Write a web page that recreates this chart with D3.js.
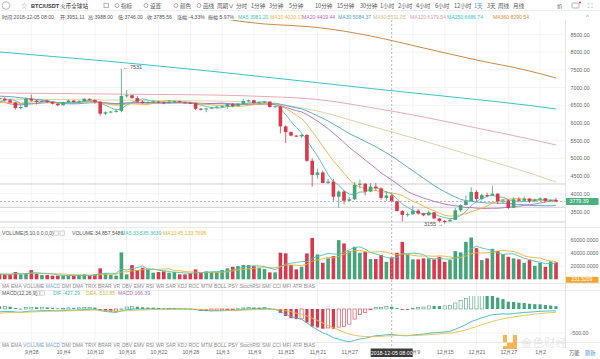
<!DOCTYPE html>
<html><head><meta charset="utf-8">
<script src="https://cdn.jsdelivr.net/npm/d3@7"></script>
<style>
html,body{margin:0;padding:0;background:#fff;}
svg{display:block;font-family:"Liberation Sans","Noto Sans CJK SC",sans-serif;}
</style></head><body>
<svg id="c" width="600" height="359"></svg>
<script>
// ---------------- DATA ----------------
const startDate = new Date(2018, 8, 22);
const endDate = new Date(2019, 0, 6);
const opens = [6700,6680,6640,6580,6420,6450,6680,6630,6590,6620,
6590,6540,6500,6580,6630,6590,6610,6680,6650,6600,
6260,6300,6320,6340,6760,6780,6700,6600,6560,6590,
6600,6580,6560,6600,6610,6580,6570,6560,6400,6380,
6410,6430,6460,6470,6530,6480,6540,6620,6640,6560,
6580,6600,6450,6470,5900,5740,5640,5620,5660,4930,
4530,4600,4300,4340,3915,4060,3800,3840,4250,4280,
4060,4200,4150,3880,3951.11,3785,3510,3400,3420,3520,
3440,3390,3470,3300,3230,3220,3260,3530,3680,3790,
4050,3850,3960,3950,4000,3780,3810,3600,3840,3800,
3860,3790,3830,3870,3800,3820];
const closes = [6680,6640,6580,6420,6450,6680,6630,6590,6620,6590,
6540,6500,6580,6630,6590,6610,6680,6650,6600,6260,
6300,6320,6340,6760,6780,6700,6600,6560,6590,6600,
6580,6560,6600,6610,6580,6570,6560,6400,6380,6410,
6430,6460,6470,6530,6480,6540,6620,6640,6560,6580,
6600,6450,6470,5900,5740,5640,5620,5660,4930,4530,
4600,4300,4340,3915,4060,3800,3840,4250,4280,4060,
4200,4150,3880,3951.11,3785.56,3510,3400,3420,3520,3440,
3390,3470,3300,3230,3220,3260,3530,3680,3790,4050,
3850,3960,3950,4000,3780,3810,3600,3840,3800,3860,
3790,3830,3870,3800,3820,3779.39];
const highs = [6760,6720,6680,6600,6520,6720,6800,6650,6650,6660,
6610,6560,6600,6660,6640,6640,6700,6690,6660,6610,
6330,6340,6400,7531,6930,6790,6760,6640,6610,6640,
6620,6600,6640,6630,6630,6600,6580,6570,6420,6430,
6450,6480,6490,6560,6560,6560,6680,6660,6650,6600,
6620,6610,6490,6480,5930,5760,5660,5680,5680,5000,
4700,4650,4420,4420,4100,4100,3900,4330,4400,4300,
4300,4300,4180,4070,3988,3800,3540,3470,3660,3570,
3460,3520,3480,3320,3260,3300,3600,3700,3950,4180,
4100,4000,4030,4230,4010,3850,3840,3900,3900,3920,
3880,3860,3900,3880,3850,3880];
const lows = [6640,6600,6560,6380,6380,6430,6600,6520,6570,6560,
6520,6470,6490,6560,6570,6560,6590,6630,6540,6200,
6220,6270,6290,6300,6700,6680,6560,6540,6540,6570,
6560,6530,6550,6560,6570,6560,6540,6360,6350,6300,
6390,6420,6430,6400,6440,6470,6520,6580,6540,6530,
6560,6430,6420,5700,5430,5620,5600,5580,4900,4200,
4430,4300,4280,3800,3600,3700,3780,3820,4150,3950,
4040,4090,3830,3800,3746,3500,3220,3350,3400,3400,
3360,3380,3280,3190,3155,3210,3250,3480,3670,3780,
3780,3810,3900,3930,3700,3720,3560,3590,3780,3780,
3740,3750,3800,3770,3770,3760];
const volumes = [8000,7500,7500,11000,7500,9000,14000,8500,6500,6500,
5500,5500,5500,5500,5500,6500,7500,5500,7500,16600,
9000,6500,5500,40700,7500,21600,14000,17500,15500,10000,
11000,12000,10000,11000,7500,7500,9000,15000,10000,12000,
11000,11000,14000,16600,19000,20000,21600,21600,20000,17500,
15500,10500,10500,40300,39300,21600,15000,
19000,39200,62700,37700,25000,31700,35100,59300,54300,42700,
49200,40100,41600,30600,30600,36700,26500,33200,40100,56700,
37700,30200,30200,31700,31700,30200,34100,26500,29100,42700,
40700,56700,63300,47200,29100,31700,46200,42700,37700,34100,
31700,30200,25000,29100,20500,25000,19000,27100,25600];
// closes of the 29 days before the window (for the short moving averages and MACD)
const priorCloses = [6800,6830,6810,6990,7150,7100,7060,7090,7250,7320,7310,7400,6800,6600,6500,6300,6350,6390,6380,6430,6590,6620,6610,6600,6350,6440,6480,6590,6820];
// long moving averages at sample candles
const longIdx = [0,10,20,30,40,50,60,70,80,90,100,105];
const ma60Vals = [6675,6661,6647,6633,6619,6562,6336,5912,5489,5037,4585,4331];
const ma120Vals = [6845,6831,6816,6802,6788,6746,6661,6435,6167,5856,5545,5376];
const ma250Vals = [8003,7876,7749,7607,7458,7297,7136,6972,6816,6661,6492,6393];
const ma360Idx = [38,45,50,55,60,70,80,90,100,105];
const ma360Vals = [9060,8879,8794,8752,8695,8455,8116,7777,7466,7268];
const drawnLevels = [4274, 3616, 3200];
const priceTicks = [3500,4000,4500,5000,5500,6000,6500,7000,7500,8000,8500];
const volTicks = [20000,40000,60000];
const macdTicks = [-500];
const dateTickLabels = ["9月28","10月4","10月10","10月16","10月22","10月28","11月3","11月9","11月15","11月21","11月27","12月9","12月15","12月21","12月27","1月2"];
const crossDate = "2018-12-05 08:00";
const crossIdx = 74;
const periods = ["分时","1分钟","3分钟","5分钟","10分钟","15分钟","30分钟","1小时","2小时","4小时","6小时","12小时","1天","3天","周线","月线"];
const indicatorTabs = ["MA","EMA","VOLUME","MACD","DMI","DMA","TRIX","BRAR","VR","OBV","EMV","RSI","WR","SAR","KDJ","ROC","MTM","BOLL","PSY","StochRSI","SMI","CCI","MFI","ATR","BIAS"];
const infoItems = ["时间:2018-12-05 08:00","开:3951.11","高:3988.00","低:3746.00","收:3785.56","涨幅:-4.33%","振幅:5.97%","MA5:3981.20","MA10:4020.17","MA20:4409.44","MA30:5084.37","MA60:5511.05","MA120:6179.54","MA250:6686.74","MA360:8290.54"];
const volInfo = ["VOLUME(5,10,0,0,0,0)","VOLUME:34,857.5486","MA5:33,535.3639","MA10:45,133.7698"];
const macdInfo = ["MACD(12,26,9)","DIF:-427.29","DEA:-510.85","MACD:166.39"];
const lastVolLabel = "231.5209";

// ---------------- SETUP ----------------
const svg = d3.select("#c");
const UP = "#45a57a", DOWN = "#d9394c";
const AX = 565.5;
const n = closes.length;
const dates = d3.timeDay.range(startDate, endDate);
const fmtDate = d => `${d.getMonth()+1}月${d.getDate()}`;
const x = d3.scaleLinear().domain([0, 105]).range([-0.5, -0.5 + 105*5.3]);
const yP = d3.scaleLinear().domain([3087, 8850]).range([226, 22]);
const yV = d3.scaleLinear().domain([0, 60000]).range([279.3, 239.7]);
const yM = d3.scaleLinear().domain([-500, 0]).range([333, 309]);
const tickIdx = dateTickLabels.map(l => dates.findIndex(d => fmtDate(d) === l));

const defs = svg.append("defs");
function clip(id, y0, y1){ defs.append("clipPath").attr("id", id).append("rect").attr("x",0).attr("y",y0).attr("width",AX).attr("height",y1-y0); }
clip("cMain", 20, 227); clip("cVol", 236, 281); clip("cMacd", 296, 344);

// grid
const grid = svg.append("g");
tickIdx.forEach(i => grid.append("line").attr("x1", x(i)).attr("x2", x(i)).attr("y1", 20).attr("y2", 344).attr("stroke", "#f1f1f1").attr("stroke-width", 0.8));
priceTicks.forEach(v => grid.append("line").attr("x1",0).attr("x2",AX).attr("y1",yP(v)).attr("y2",yP(v)).attr("stroke","#f1f1f1").attr("stroke-width",0.8));
volTicks.forEach(v => grid.append("line").attr("x1",0).attr("x2",AX).attr("y1",yV(v)).attr("y2",yV(v)).attr("stroke","#f1f1f1").attr("stroke-width",0.8));
macdTicks.forEach(v => grid.append("line").attr("x1",0).attr("x2",AX).attr("y1",yM(v)).attr("y2",yM(v)).attr("stroke","#f1f1f1").attr("stroke-width",0.8));

// separators
[227.5,283.5,290.5,342.5].forEach(y => svg.append("line").attr("x1",0).attr("x2",600).attr("y1",y).attr("y2",y).attr("stroke","#e6e6e6").attr("stroke-width",0.8));
svg.append("line").attr("x1",0).attr("x2",600).attr("y1",10.5).attr("y2",10.5).attr("stroke","#eeeeee");
svg.append("line").attr("x1",AX).attr("x2",AX).attr("y1",20).attr("y2",348).attr("stroke","#dddddd").attr("stroke-width",0.8);

// ---------------- MAIN PANE ----------------
const main = svg.append("g").attr("clip-path","url(#cMain)");
drawnLevels.forEach(v => main.append("line").attr("x1",0).attr("x2",AX).attr("y1",yP(v)).attr("y2",yP(v)).attr("stroke","#c9c9c9").attr("stroke-width",0.9));
main.append("line").attr("x1",0).attr("x2",AX).attr("y1",yP(closes[n-1])).attr("y2",yP(closes[n-1])).attr("stroke","#a9a9a9").attr("stroke-dasharray","2,2").attr("stroke-width",0.8);

const allCloses = priorCloses.concat(closes);
const P = priorCloses.length;
function sma(k){ return closes.map((c,i) => d3.mean(allCloses.slice(Math.max(0, i+P-k+1), i+P+1))); }
const lineI = d3.line().x((d,i)=>x(i)).y(d=>yP(d));
const knotLine = d3.line().x(d=>x(d[0])).y(d=>yP(d[1])).curve(d3.curveMonotoneX);
function knots(idx, vals){ return idx.map((i,k)=>[i, vals[k]]); }
main.append("path").attr("d", knotLine(knots(ma360Idx, ma360Vals))).attr("fill","none").attr("stroke","#c98a47").attr("stroke-width",1);
main.append("path").attr("d", knotLine(knots(longIdx, ma250Vals))).attr("fill","none").attr("stroke","#36c5c9").attr("stroke-width",1);
main.append("path").attr("d", knotLine(knots(longIdx, ma120Vals))).attr("fill","none").attr("stroke","#e6a0ae").attr("stroke-width",0.9);
main.append("path").attr("d", knotLine(knots(longIdx, ma60Vals))).attr("fill","none").attr("stroke","#d6cf9f").attr("stroke-width",0.9);
const maDefs = [[30,"#4f9fc4"],[20,"#b36cc4"],[10,"#f0b13a"],[5,"#55c2ad"]];
maDefs.forEach(([k,col]) => main.append("path").attr("d", lineI(sma(k))).attr("fill","none").attr("stroke",col).attr("stroke-width",0.9));

const cg = main.append("g");
closes.forEach((c,i) => {
  const o = opens[i], col = c >= o ? UP : DOWN;
  cg.append("line").attr("x1",x(i)).attr("x2",x(i)).attr("y1",yP(highs[i])).attr("y2",yP(lows[i])).attr("stroke",col).attr("stroke-width",0.8);
  const y0 = Math.min(yP(o), yP(c)), h = Math.max(1, Math.abs(yP(o)-yP(c)));
  cg.append("rect").attr("x",x(i)-1.8).attr("y",y0).attr("width",3.6).attr("height",h).attr("fill",col);
});

const hiI = d3.maxIndex(highs), loI = d3.minIndex(lows);
svg.append("text").attr("x", x(hiI)+1.5).attr("y", yP(highs[hiI])+0.5).attr("font-size",5.5).attr("fill","#555").text("← " + Math.round(highs[hiI]));
svg.append("text").attr("x", x(loI)-1.5).attr("y", yP(lows[loI])+2.5).attr("font-size",5.5).attr("fill","#555").attr("text-anchor","end").text(Math.round(lows[loI]) + " →");

const pa = svg.append("g").attr("transform",`translate(${AX+3},0)`).call(d3.axisRight(yP).tickValues(priceTicks).tickSize(0).tickPadding(2).tickFormat(d=>d.toFixed(2)));
pa.select(".domain").remove();
pa.selectAll("text").attr("font-size",5.3).attr("fill","#666");
const cy = yP(closes[n-1]);
svg.append("rect").attr("x",AX+0.5).attr("y",cy-3.5).attr("width",32.5).attr("height",7).attr("fill","#4caf7f");
svg.append("text").attr("x",AX+4).attr("y",cy+2).attr("font-size",5.3).attr("fill","#fff").text(closes[n-1].toFixed(2));

// ---------------- VOLUME PANE ----------------
const vol = svg.append("g").attr("clip-path","url(#cVol)");
volumes.forEach((v,i) => {
  const col = closes[i] >= opens[i] ? UP : DOWN;
  vol.append("rect").attr("x",x(i)-1.8).attr("y",yV(v)).attr("width",3.6).attr("height",yV(0)-yV(v)).attr("fill",col);
});
function vma(k){ return volumes.map((v,i)=>d3.mean(volumes.slice(Math.max(0,i-k+1), i+1))); }
const vLine = d3.line().x((d,i)=>x(i)).y(d=>yV(d));
vol.append("path").attr("d", vLine(vma(10))).attr("fill","none").attr("stroke","#f0b13a").attr("stroke-width",0.9);
vol.append("path").attr("d", vLine(vma(5))).attr("fill","none").attr("stroke","#55c2ad").attr("stroke-width",0.9);
const va = svg.append("g").attr("transform",`translate(${AX+3},0)`).call(d3.axisRight(yV).tickValues(volTicks).tickSize(0).tickPadding(2).tickFormat(d=>d.toFixed(4)));
va.select(".domain").remove();
va.selectAll("text").attr("font-size",5.3).attr("fill","#666");
svg.append("rect").attr("x",AX+0.5).attr("y",yV(0)-2.5).attr("width",32.5).attr("height",6).attr("fill","#f3a531");
svg.append("text").attr("x",AX+6).attr("y",yV(0)+2).attr("font-size",5).attr("fill","#fff").text(lastVolLabel);

// ---------------- MACD PANE ----------------
function ema(arr,k){ const a=2/(k+1); const out=[arr[0]]; for(let i=1;i<arr.length;i++) out.push(arr[i]*a + out[i-1]*(1-a)); return out; }
const e12 = ema(allCloses,12), e26 = ema(allCloses,26);
const difAll = e12.map((v,i)=>v-e26[i]);
const deaAll = ema(difAll,9);
const dif = difAll.slice(P), dea = deaAll.slice(P);
const hist = dif.map((d,i)=>2*(d-dea[i]));
const mg = svg.append("g").attr("clip-path","url(#cMacd)");
hist.forEach((v,i) => {
  const col = v >= 0 ? UP : DOWN;
  const prev = i > 0 ? hist[i-1] : v;
  const hollow = v > prev;
  const y0 = Math.min(yM(0), yM(v)), h = Math.max(0.8, Math.abs(yM(v)-yM(0)));
  mg.append("rect").attr("x",x(i)-1.6).attr("y",y0).attr("width",3.2).attr("height",h)
    .attr("fill", hollow ? "#fff" : col).attr("stroke", col).attr("stroke-width", hollow ? 0.6 : 0);
});
const mLine = d3.line().x((d,i)=>x(i)).y(d=>yM(d));
mg.append("path").attr("d", mLine(dif)).attr("fill","none").attr("stroke","#3cb5c2").attr("stroke-width",0.9);
mg.append("path").attr("d", mLine(dea)).attr("fill","none").attr("stroke","#e7c04a").attr("stroke-width",0.9);
const ma_ = svg.append("g").attr("transform",`translate(${AX+3},0)`).call(d3.axisRight(yM).tickValues(macdTicks).tickSize(0).tickPadding(2).tickFormat(d=>d.toFixed(2)));
ma_.select(".domain").remove();
ma_.selectAll("text").attr("font-size",5.3).attr("fill","#666");

// ---------------- WATERMARK ----------------
const wm = svg.append("g").attr("opacity",0.85);
wm.append("rect").attr("x",503).attr("y",335).attr("width",14).attr("height",14).attr("fill","#f4a83a");
wm.append("rect").attr("x",507).attr("y",335).attr("width",6).attr("height",7.5).attr("fill","#fff");
wm.append("rect").attr("x",503).attr("y",342.5).attr("width",4).attr("height",3.5).attr("fill","#fff");
svg.append("text").attr("x",521).attr("y",346.5).attr("font-size",11.5).attr("fill","#d8d8d8").attr("opacity",0.6).attr("font-family","Noto Sans CJK SC").text("金色财经");

// ---------------- CROSSHAIR ----------------
svg.append("line").attr("x1",x(crossIdx)).attr("x2",x(crossIdx)).attr("y1",20).attr("y2",348).attr("stroke","#9a9a9a").attr("stroke-dasharray","2,2").attr("stroke-width",0.7);

// ---------------- X AXIS ----------------
const xa = svg.append("g").attr("transform","translate(0,348)").call(d3.axisBottom(x).tickValues(tickIdx).tickSize(0).tickPadding(2.5).tickFormat((d,k)=>dateTickLabels[k]));
xa.select(".domain").remove();
xa.selectAll("text").attr("font-size",5.3).attr("fill","#666");
svg.append("rect").attr("x",x(crossIdx)-21).attr("y",348.5).attr("width",42).attr("height",8.5).attr("fill","#3b3b3b");
svg.append("text").attr("x",x(crossIdx)).attr("y",354.8).attr("text-anchor","middle").attr("font-size",5.3).attr("fill","#fff").text(crossDate);

// ---------------- TEXT STRIPS ----------------
function tabStrip(y, hi){
  const g = svg.append("g").attr("font-size",4.9);
  const nodes = indicatorTabs.map(w => g.append("text").attr("y",y).text(w).attr("fill", hi.includes(w) ? "#6fa8dc" : "#8a8a8a"));
  const lens = nodes.map(t => t.node().getComputedTextLength());
  const gap = (313 - d3.sum(lens)) / (nodes.length-1);
  let xx = 2;
  nodes.forEach((t,k) => { t.attr("x", xx); xx += lens[k] + gap; });
}
tabStrip(288, ["MACD"]);
tabStrip(347, ["VOLUME","MACD"]);

// toolbar
const tb = svg.append("g").attr("font-size",5.6).attr("fill","#555").attr("font-family","Noto Sans CJK SC, Liberation Sans");
tb.append("circle").attr("cx",6).attr("cy",5.5).attr("r",3.8).attr("fill","none").attr("stroke","#aaa").attr("stroke-width",0.8);
tb.append("text").attr("x",21).attr("y",7.6).attr("font-size",6.5).attr("fill","#999").text("☆");
tb.append("text").attr("x",31).attr("y",7.6).attr("font-weight","bold").attr("fill","#333").attr("font-family","Liberation Sans").text("BTC/USDT");
tb.append("text").attr("x",60).attr("y",7.6).attr("fill","#333").text("火币全球站");
tb.append("rect").attr("x",104).attr("y",3.2).attr("width",4.5).attr("height",4.5).attr("fill","none").attr("stroke","#888").attr("stroke-width",0.6);
[["指标",121,115],["设置",150,144],["颜色",180,174],["画线",203,197]].forEach(([t,tx,ix]) => {
  tb.append("circle").attr("cx",ix+2).attr("cy",5.5).attr("r",2).attr("fill","none").attr("stroke","#777").attr("stroke-width",0.6);
  tb.append("text").attr("x",tx).attr("y",7.6).text(t);
});
tb.append("text").attr("x",217).attr("y",7.6).text("周期∨");
const perX = [236,251,269,289,315,337,360,380,398,416,435,454,474,487,498,513];
periods.forEach((p,k) => tb.append("text").attr("x",perX[k]).attr("y",7.6).attr("fill", p==="1天" ? "#4a8fe0" : "#555").text(p));
tb.append("text").attr("x",557).attr("y",7.6).text("价");
tb.append("rect").attr("x",572).attr("y",3).attr("width",7).attr("height",5).attr("rx",1).attr("fill","none").attr("stroke","#888").attr("stroke-width",0.6);
tb.append("circle").attr("cx",580).attr("cy",2.5).attr("r",1).attr("fill","#e33");
tb.append("text").attr("x",588).attr("y",8).attr("font-size",6.5).attr("fill","#888").text("⛶");
svg.append("text").attr("x",586).attr("y",19).attr("font-size",6).attr("fill","#888").text("^");

// info line
const infoX = [2,60,88,118,147,177,208,238,270,302,338,373,410,447,493];
const infoCol = ["#555","#555","#555","#555","#555","#555","#555","#3fbfae","#eab33b","#b36cc4","#4f9fc4","#c9c08a","#e39aa9","#36c5c9","#d08a3f"];
const ig = svg.append("g").attr("font-size",5.1);
infoItems.forEach((t,k) => ig.append("text").attr("x",infoX[k]).attr("y",18.5).attr("fill",infoCol[k]).text(t));

// volume header
const vh = svg.append("g").attr("font-size",5.1);
vh.append("text").attr("x",2).attr("y",235).attr("fill","#555").text(volInfo[0]);
[54,60].forEach(xx => vh.append("rect").attr("x",xx).attr("y",231).attr("width",4.2).attr("height",4.2).attr("fill","none").attr("stroke","#aaa").attr("stroke-width",0.5));
vh.append("text").attr("x",72).attr("y",235).attr("fill","#555").text(volInfo[1]);
vh.append("text").attr("x",121).attr("y",235).attr("fill","#3fbfae").text(volInfo[2]);
vh.append("text").attr("x",163).attr("y",235).attr("fill","#eab33b").text(volInfo[3]);

// macd header
const mh = svg.append("g").attr("font-size",5.1);
mh.append("text").attr("x",2).attr("y",295).attr("fill","#555").text(macdInfo[0]);
[35,40].forEach(xx => mh.append("rect").attr("x",xx).attr("y",291).attr("width",4.2).attr("height",4.2).attr("fill","none").attr("stroke","#aaa").attr("stroke-width",0.5));
mh.append("text").attr("x",53).attr("y",295).attr("fill","#3cb5c2").text(macdInfo[1]);
mh.append("text").attr("x",86).attr("y",295).attr("fill","#e2b640").text(macdInfo[2]);
mh.append("text").attr("x",118).attr("y",295).attr("fill","#b36cc4").text(macdInfo[3]);

// bottom-right
svg.append("text").attr("x",569).attr("y",354.5).attr("font-size",5.3).attr("fill","#555").attr("font-family","Noto Sans CJK SC").text("万能");
svg.append("text").attr("x",585).attr("y",354.5).attr("font-size",5.3).attr("fill","#4a8fe0").attr("font-family","Noto Sans CJK SC").text("刷新");
</script>
</body></html>
